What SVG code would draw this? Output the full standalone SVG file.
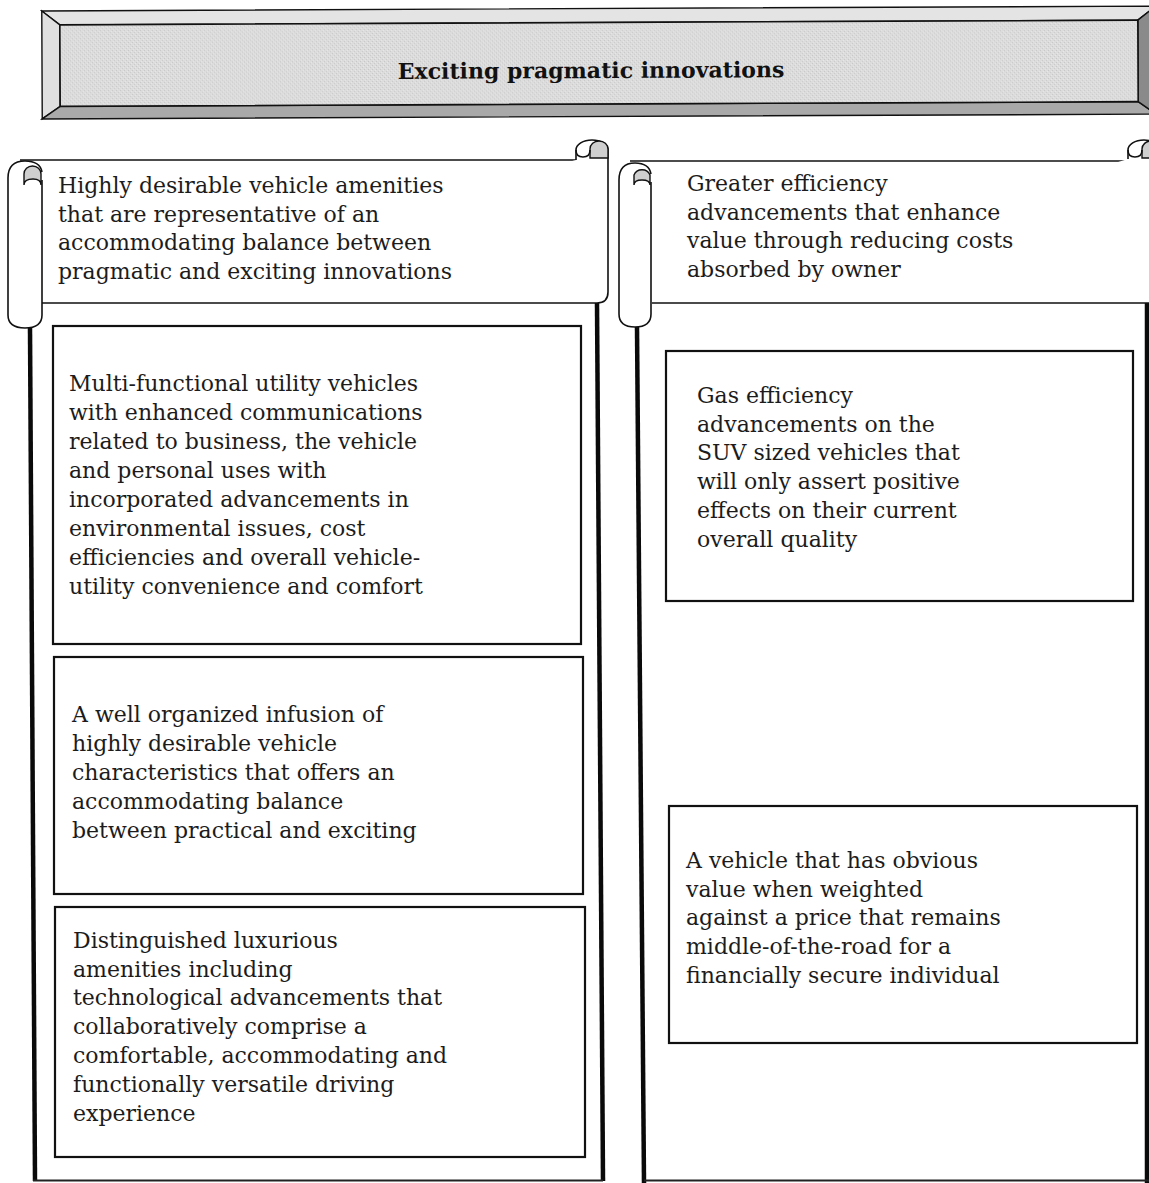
<svg xmlns="http://www.w3.org/2000/svg" width="1149" height="1183" viewBox="0 0 1149 1183">
  <style>
    .t { font-family: "DejaVu Serif", "Liberation Serif", serif; font-size: 22px; fill: #1c1c1c; }
    .title { font-family: "DejaVu Serif", "Liberation Serif", serif; font-size: 22px; font-weight: bold; fill: #111; }
    .ln { fill: none; stroke: #111; stroke-width: 1.6; }
    .roll { fill: #fff; stroke: #111; stroke-width: 1.6; }
    .curl { fill: #cfcfcf; stroke: #111; stroke-width: 1.4; }
    .box { fill: #fff; stroke: #111; stroke-width: 2.2; }
    .rail { fill: none; stroke: #0a0a0a; stroke-width: 4.5; }
    .base { fill: none; stroke: #222; stroke-width: 2; }
  </style>
  <defs>
    <pattern id="grain" width="4" height="4" patternUnits="userSpaceOnUse">
      <rect width="4" height="4" fill="#dcdcdc"/>
      <rect x="0" y="0" width="1" height="1" fill="#c6c6c6"/>
      <rect x="2" y="2" width="1" height="1" fill="#cacaca"/>
      <rect x="3" y="1" width="1" height="1" fill="#e8e8e8"/>
      <rect x="1" y="3" width="1" height="1" fill="#e6e6e6"/>
    </pattern>
  </defs>
  <rect width="1149" height="1183" fill="#fff"/>

  <!-- Title banner (bevelled plaque) -->
  <g id="title" transform="rotate(-0.25 600 62)">
    <polygon points="42,8.5 1156,8.5 1138,22.5 60,22.5" fill="#e4e4e4" stroke="#111" stroke-width="1.4"/>
    <polygon points="42,8.5 60,22.5 60,104 42,116.5" fill="#e0e0e0" stroke="#111" stroke-width="1.4"/>
    <polygon points="42,116.5 60,104 1138,104 1156,116.5" fill="#a9a9a9" stroke="#111" stroke-width="1.4"/>
    <polygon points="1138,22.5 1156,8.5 1156,116.5 1138,104" fill="#8a8a8a" stroke="#111" stroke-width="1.4"/>
    <rect x="60" y="22.5" width="1078" height="81.5" fill="url(#grain)" stroke="#111" stroke-width="1.6"/>
    <text class="title" x="591" y="78" text-anchor="middle">Exciting pragmatic innovations</text>
  </g>

  <!-- Panel frames -->
  <g id="frames">
    <path class="rail" d="M30,328 L35,1181"/>
    <path class="rail" d="M597,303 L603,1181"/>
    <path class="base" d="M33,1180.5 H603"/>
    <path class="rail" d="M637,327 L644,1183"/>
    <path class="rail" d="M1147,301 L1147,1183"/>
    <path class="base" d="M644,1180.5 H1149"/>
  </g>

  <!-- Left scroll header -->
  <g id="left-header">
    <path class="ln" d="M20,160 H576"/>
    <path class="roll" d="M576,160 V150 A16,10 0 0 1 608,150 V292 Q608,303 597,303 H42"/>
    <path class="curl" d="M590,158 V149 A9,8 0 0 1 608,149 V158 Z"/>
    <path class="ln" d="M576,150 Q576,157 583,157 Q590,157 590,150"/>
    <path class="roll" d="M42,180 V315 Q42,328 25,328 Q8,328 8,315 V178 Q8,161 25,161 Q40,161 42,172"/>
    <path class="curl" d="M24,185 V174 A8.5,8 0 0 1 41,174 V185 Q41,179 33,179 Q24,179 24,185 Z"/>
    <text class="t" x="58" y="193">Highly desirable vehicle amenities</text>
    <text class="t" x="58" y="222">that are representative of an</text>
    <text class="t" x="58" y="250">accommodating balance between</text>
    <text class="t" x="58" y="279">pragmatic and exciting innovations</text>
  </g>

  <!-- Right scroll header -->
  <g id="right-header">
    <path class="ln" d="M630,161 H1128"/>
    <path class="roll" d="M1128,159 V150 A16,10 0 0 1 1160,150 V303 H652"/>
    <path class="curl" d="M1142,158 V149 A9,8 0 0 1 1160,149 V158 Z"/>
    <path class="ln" d="M1128,150 Q1128,157 1135,157 Q1142,157 1142,150"/>
    <path class="roll" d="M651,182 V314 Q651,327 635,327 Q619,327 619,314 V180 Q619,163 635,163 Q649,163 651,174"/>
    <path class="curl" d="M634,185 V175 A8.5,8 0 0 1 650,175 V185 Q650,180 642,180 Q634,180 634,185 Z"/>
    <text class="t" x="687" y="191">Greater efficiency</text>
    <text class="t" x="687" y="220">advancements that enhance</text>
    <text class="t" x="687" y="248">value through reducing costs</text>
    <text class="t" x="687" y="277">absorbed by owner</text>
  </g>

  <!-- Left column boxes -->
  <g id="box-multi">
    <rect class="box" x="53" y="326" width="528" height="318"/>
    <text class="t" x="69" y="391">Multi-functional utility vehicles</text>
    <text class="t" x="69" y="420">with enhanced communications</text>
    <text class="t" x="69" y="449">related to business, the vehicle</text>
    <text class="t" x="69" y="478">and personal uses with</text>
    <text class="t" x="69" y="507">incorporated advancements in</text>
    <text class="t" x="69" y="536">environmental issues, cost</text>
    <text class="t" x="69" y="565">efficiencies and overall vehicle-</text>
    <text class="t" x="69" y="594">utility convenience and comfort</text>
  </g>

  <g id="box-infusion">
    <rect class="box" x="54" y="657" width="529" height="237"/>
    <text class="t" x="72" y="722">A well organized infusion of</text>
    <text class="t" x="72" y="751">highly desirable vehicle</text>
    <text class="t" x="72" y="780">characteristics that offers an</text>
    <text class="t" x="72" y="809">accommodating balance</text>
    <text class="t" x="72" y="838">between practical and exciting</text>
  </g>

  <g id="box-luxury">
    <rect class="box" x="55" y="907" width="530" height="250"/>
    <text class="t" x="73" y="948">Distinguished luxurious</text>
    <text class="t" x="73" y="977">amenities including</text>
    <text class="t" x="73" y="1005">technological advancements that</text>
    <text class="t" x="73" y="1034">collaboratively comprise a</text>
    <text class="t" x="73" y="1063">comfortable, accommodating and</text>
    <text class="t" x="73" y="1092">functionally versatile driving</text>
    <text class="t" x="73" y="1121">experience</text>
  </g>

  <!-- Right column boxes -->
  <g id="box-gas">
    <rect class="box" x="666" y="351" width="467" height="250"/>
    <text class="t" x="697" y="403">Gas efficiency</text>
    <text class="t" x="697" y="432">advancements on the</text>
    <text class="t" x="697" y="460">SUV sized vehicles that</text>
    <text class="t" x="697" y="489">will only assert positive</text>
    <text class="t" x="697" y="518">effects on their current</text>
    <text class="t" x="697" y="547">overall quality</text>
  </g>

  <g id="box-value">
    <rect class="box" x="669" y="806" width="468" height="237"/>
    <text class="t" x="686" y="868">A vehicle that has obvious</text>
    <text class="t" x="686" y="897">value when weighted</text>
    <text class="t" x="686" y="925">against a price that remains</text>
    <text class="t" x="686" y="954">middle-of-the-road for a</text>
    <text class="t" x="686" y="983">financially secure individual</text>
  </g>
</svg>
